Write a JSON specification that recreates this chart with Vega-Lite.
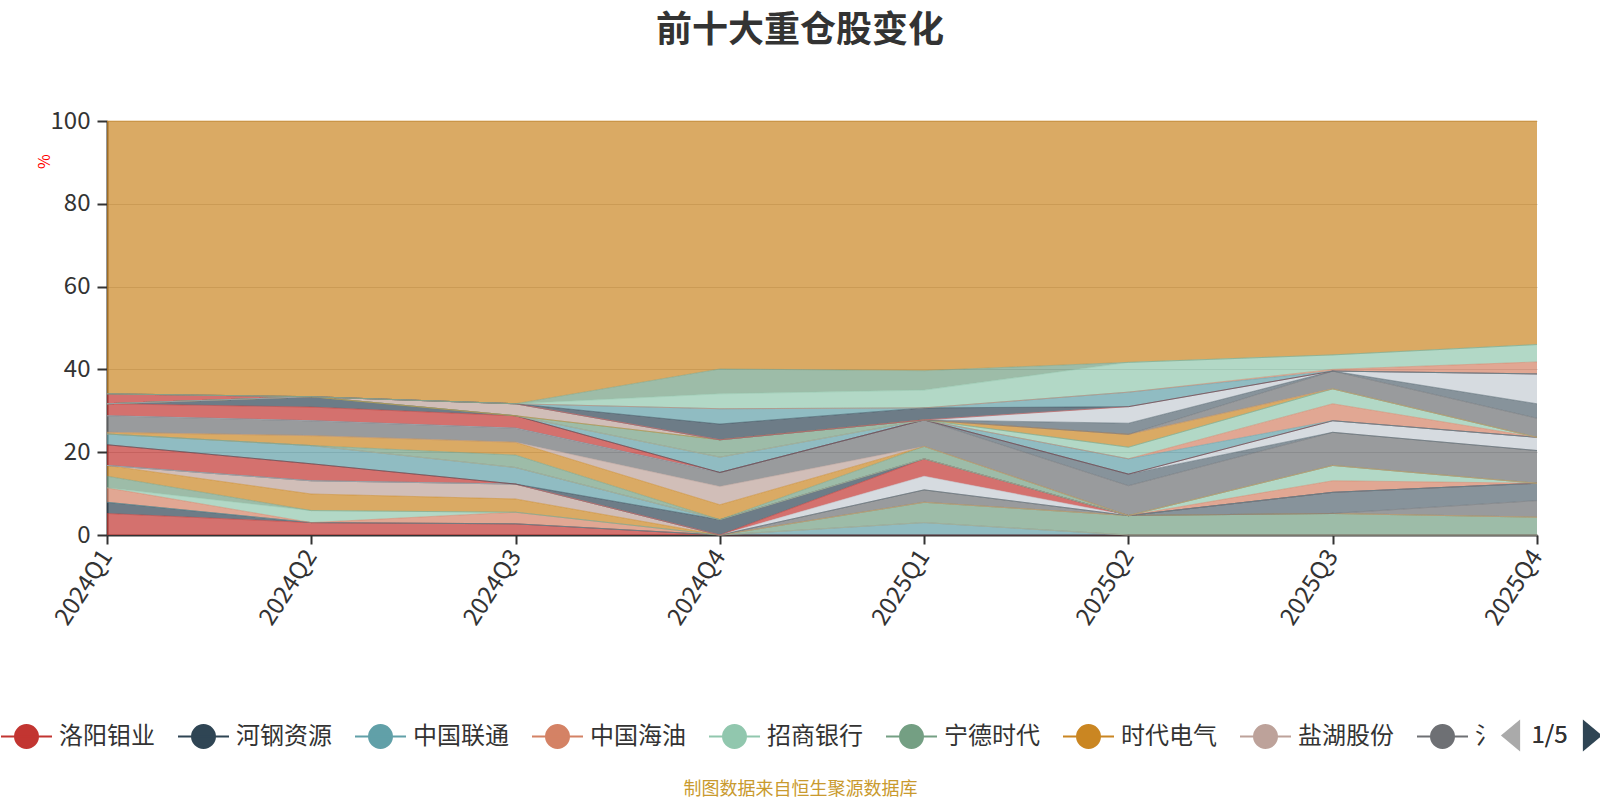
{
  "$schema": "https://vega.github.io/schema/vega-lite/v6.json",
  "autosize": "none",
  "width": 1430,
  "height": 414,
  "padding": {"left": 107, "top": 121, "right": 63, "bottom": 265},
  "background": "white",
  "title": {
    "text": "前十大重仓股变化",
    "font": "Noto Sans CJK SC",
    "fontSize": 36,
    "fontWeight": "bold",
    "color": "#333333",
    "anchor": "middle",
    "dx": -22,
    "offset": 59
  },
  "layer": [
    {
      "data": {
        "values": [
          {"q":"2024Q1","s":"洛阳钼业","i":0,"v":5.2},{"q":"2024Q2","s":"洛阳钼业","i":0,"v":3.0},{"q":"2024Q3","s":"洛阳钼业","i":0,"v":2.7},{"q":"2024Q4","s":"洛阳钼业","i":0,"v":0},{"q":"2025Q1","s":"洛阳钼业","i":0,"v":0},{"q":"2025Q2","s":"洛阳钼业","i":0,"v":0},{"q":"2025Q3","s":"洛阳钼业","i":0,"v":0},{"q":"2025Q4","s":"洛阳钼业","i":0,"v":0},
          {"q":"2024Q1","s":"河钢资源","i":1,"v":2.7},{"q":"2024Q2","s":"河钢资源","i":1,"v":0},{"q":"2024Q3","s":"河钢资源","i":1,"v":0},{"q":"2024Q4","s":"河钢资源","i":1,"v":0},{"q":"2025Q1","s":"河钢资源","i":1,"v":0},{"q":"2025Q2","s":"河钢资源","i":1,"v":0},{"q":"2025Q3","s":"河钢资源","i":1,"v":0},{"q":"2025Q4","s":"河钢资源","i":1,"v":0},
          {"q":"2024Q1","s":"中国联通","i":2,"v":0},{"q":"2024Q2","s":"中国联通","i":2,"v":0},{"q":"2024Q3","s":"中国联通","i":2,"v":0},{"q":"2024Q4","s":"中国联通","i":2,"v":0},{"q":"2025Q1","s":"中国联通","i":2,"v":3.0},{"q":"2025Q2","s":"中国联通","i":2,"v":0},{"q":"2025Q3","s":"中国联通","i":2,"v":0},{"q":"2025Q4","s":"中国联通","i":2,"v":0},
          {"q":"2024Q1","s":"中国海油","i":3,"v":3.5},{"q":"2024Q2","s":"中国海油","i":3,"v":0},{"q":"2024Q3","s":"中国海油","i":3,"v":2.8},{"q":"2024Q4","s":"中国海油","i":3,"v":0},{"q":"2025Q1","s":"中国海油","i":3,"v":0},{"q":"2025Q2","s":"中国海油","i":3,"v":0},{"q":"2025Q3","s":"中国海油","i":3,"v":0},{"q":"2025Q4","s":"中国海油","i":3,"v":0},
          {"q":"2024Q1","s":"招商银行","i":4,"v":0},{"q":"2024Q2","s":"招商银行","i":4,"v":2.9},{"q":"2024Q3","s":"招商银行","i":4,"v":0},{"q":"2024Q4","s":"招商银行","i":4,"v":0},{"q":"2025Q1","s":"招商银行","i":4,"v":0},{"q":"2025Q2","s":"招商银行","i":4,"v":0},{"q":"2025Q3","s":"招商银行","i":4,"v":0},{"q":"2025Q4","s":"招商银行","i":4,"v":0},
          {"q":"2024Q1","s":"宁德时代","i":5,"v":2.8},{"q":"2024Q2","s":"宁德时代","i":5,"v":0},{"q":"2024Q3","s":"宁德时代","i":5,"v":0},{"q":"2024Q4","s":"宁德时代","i":5,"v":0},{"q":"2025Q1","s":"宁德时代","i":5,"v":4.9},{"q":"2025Q2","s":"宁德时代","i":5,"v":4.7},{"q":"2025Q3","s":"宁德时代","i":5,"v":5.2},{"q":"2025Q4","s":"宁德时代","i":5,"v":4.3},
          {"q":"2024Q1","s":"时代电气","i":6,"v":2.6},{"q":"2024Q2","s":"时代电气","i":6,"v":4.0},{"q":"2024Q3","s":"时代电气","i":6,"v":3.2},{"q":"2024Q4","s":"时代电气","i":6,"v":0},{"q":"2025Q1","s":"时代电气","i":6,"v":0},{"q":"2025Q2","s":"时代电气","i":6,"v":0},{"q":"2025Q3","s":"时代电气","i":6,"v":0},{"q":"2025Q4","s":"时代电气","i":6,"v":0},
          {"q":"2024Q1","s":"盐湖股份","i":7,"v":0},{"q":"2024Q2","s":"盐湖股份","i":7,"v":3.2},{"q":"2024Q3","s":"盐湖股份","i":7,"v":3.6},{"q":"2024Q4","s":"盐湖股份","i":7,"v":0},{"q":"2025Q1","s":"盐湖股份","i":7,"v":0},{"q":"2025Q2","s":"盐湖股份","i":7,"v":0},{"q":"2025Q3","s":"盐湖股份","i":7,"v":0},{"q":"2025Q4","s":"盐湖股份","i":7,"v":0},
          {"q":"2024Q1","s":"重仓股9","i":8,"v":0},{"q":"2024Q2","s":"重仓股9","i":8,"v":0},{"q":"2024Q3","s":"重仓股9","i":8,"v":0},{"q":"2024Q4","s":"重仓股9","i":8,"v":0},{"q":"2025Q1","s":"重仓股9","i":8,"v":3.0},{"q":"2025Q2","s":"重仓股9","i":8,"v":0},{"q":"2025Q3","s":"重仓股9","i":8,"v":0},{"q":"2025Q4","s":"重仓股9","i":8,"v":4.0},
          {"q":"2024Q1","s":"重仓股10","i":9,"v":0},{"q":"2024Q2","s":"重仓股10","i":9,"v":0},{"q":"2024Q3","s":"重仓股10","i":9,"v":0},{"q":"2024Q4","s":"重仓股10","i":9,"v":0},{"q":"2025Q1","s":"重仓股10","i":9,"v":0},{"q":"2025Q2","s":"重仓股10","i":9,"v":0},{"q":"2025Q3","s":"重仓股10","i":9,"v":5.1},{"q":"2025Q4","s":"重仓股10","i":9,"v":4.2},
          {"q":"2024Q1","s":"重仓股11","i":10,"v":0},{"q":"2024Q2","s":"重仓股11","i":10,"v":0},{"q":"2024Q3","s":"重仓股11","i":10,"v":0},{"q":"2024Q4","s":"重仓股11","i":10,"v":0},{"q":"2025Q1","s":"重仓股11","i":10,"v":3.3},{"q":"2025Q2","s":"重仓股11","i":10,"v":0},{"q":"2025Q3","s":"重仓股11","i":10,"v":0},{"q":"2025Q4","s":"重仓股11","i":10,"v":0},
          {"q":"2024Q1","s":"重仓股12","i":11,"v":5.0},{"q":"2024Q2","s":"重仓股12","i":11,"v":4.1},{"q":"2024Q3","s":"重仓股12","i":11,"v":0},{"q":"2024Q4","s":"重仓股12","i":11,"v":0},{"q":"2025Q1","s":"重仓股12","i":11,"v":4.2},{"q":"2025Q2","s":"重仓股12","i":11,"v":0},{"q":"2025Q3","s":"重仓股12","i":11,"v":0},{"q":"2025Q4","s":"重仓股12","i":11,"v":0},
          {"q":"2024Q1","s":"重仓股13","i":12,"v":0},{"q":"2024Q2","s":"重仓股13","i":12,"v":0},{"q":"2024Q3","s":"重仓股13","i":12,"v":0},{"q":"2024Q4","s":"重仓股13","i":12,"v":3.7},{"q":"2025Q1","s":"重仓股13","i":12,"v":0},{"q":"2025Q2","s":"重仓股13","i":12,"v":0},{"q":"2025Q3","s":"重仓股13","i":12,"v":0},{"q":"2025Q4","s":"重仓股13","i":12,"v":0},
          {"q":"2024Q1","s":"重仓股14","i":13,"v":2.6},{"q":"2024Q2","s":"重仓股14","i":13,"v":4.4},{"q":"2024Q3","s":"重仓股14","i":13,"v":4.0},{"q":"2024Q4","s":"重仓股14","i":13,"v":0},{"q":"2025Q1","s":"重仓股14","i":13,"v":0},{"q":"2025Q2","s":"重仓股14","i":13,"v":0},{"q":"2025Q3","s":"重仓股14","i":13,"v":0},{"q":"2025Q4","s":"重仓股14","i":13,"v":0},
          {"q":"2024Q1","s":"重仓股15","i":14,"v":0},{"q":"2024Q2","s":"重仓股15","i":14,"v":0},{"q":"2024Q3","s":"重仓股15","i":14,"v":0},{"q":"2024Q4","s":"重仓股15","i":14,"v":0},{"q":"2025Q1","s":"重仓股15","i":14,"v":0},{"q":"2025Q2","s":"重仓股15","i":14,"v":0},{"q":"2025Q3","s":"重仓股15","i":14,"v":2.8},{"q":"2025Q4","s":"重仓股15","i":14,"v":0},
          {"q":"2024Q1","s":"重仓股16","i":15,"v":0},{"q":"2024Q2","s":"重仓股16","i":15,"v":0},{"q":"2024Q3","s":"重仓股16","i":15,"v":0},{"q":"2024Q4","s":"重仓股16","i":15,"v":0},{"q":"2025Q1","s":"重仓股16","i":15,"v":0},{"q":"2025Q2","s":"重仓股16","i":15,"v":0},{"q":"2025Q3","s":"重仓股16","i":15,"v":3.7},{"q":"2025Q4","s":"重仓股16","i":15,"v":0},
          {"q":"2024Q1","s":"重仓股17","i":16,"v":0},{"q":"2024Q2","s":"重仓股17","i":16,"v":0},{"q":"2024Q3","s":"重仓股17","i":16,"v":3.0},{"q":"2024Q4","s":"重仓股17","i":16,"v":0},{"q":"2025Q1","s":"重仓股17","i":16,"v":3.0},{"q":"2025Q2","s":"重仓股17","i":16,"v":0},{"q":"2025Q3","s":"重仓股17","i":16,"v":0},{"q":"2025Q4","s":"重仓股17","i":16,"v":0},
          {"q":"2024Q1","s":"重仓股18","i":17,"v":0.4},{"q":"2024Q2","s":"重仓股18","i":17,"v":2.4},{"q":"2024Q3","s":"重仓股18","i":17,"v":3.1},{"q":"2024Q4","s":"重仓股18","i":17,"v":3.6},{"q":"2025Q1","s":"重仓股18","i":17,"v":0},{"q":"2025Q2","s":"重仓股18","i":17,"v":0},{"q":"2025Q3","s":"重仓股18","i":17,"v":0},{"q":"2025Q4","s":"重仓股18","i":17,"v":0},
          {"q":"2024Q1","s":"重仓股19","i":18,"v":0},{"q":"2024Q2","s":"重仓股19","i":18,"v":0},{"q":"2024Q3","s":"重仓股19","i":18,"v":0},{"q":"2024Q4","s":"重仓股19","i":18,"v":4.4},{"q":"2025Q1","s":"重仓股19","i":18,"v":0},{"q":"2025Q2","s":"重仓股19","i":18,"v":0},{"q":"2025Q3","s":"重仓股19","i":18,"v":0},{"q":"2025Q4","s":"重仓股19","i":18,"v":0},
          {"q":"2024Q1","s":"重仓股20","i":19,"v":4.0},{"q":"2024Q2","s":"重仓股20","i":19,"v":3.6},{"q":"2024Q3","s":"重仓股20","i":19,"v":3.4},{"q":"2024Q4","s":"重仓股20","i":19,"v":3.4},{"q":"2025Q1","s":"重仓股20","i":19,"v":6.4},{"q":"2025Q2","s":"重仓股20","i":19,"v":7.2},{"q":"2025Q3","s":"重仓股20","i":19,"v":8.0},{"q":"2025Q4","s":"重仓股20","i":19,"v":7.9},
          {"q":"2024Q1","s":"重仓股21","i":20,"v":0},{"q":"2024Q2","s":"重仓股21","i":20,"v":0},{"q":"2024Q3","s":"重仓股21","i":20,"v":0},{"q":"2024Q4","s":"重仓股21","i":20,"v":0},{"q":"2025Q1","s":"重仓股21","i":20,"v":0},{"q":"2025Q2","s":"重仓股21","i":20,"v":2.8},{"q":"2025Q3","s":"重仓股21","i":20,"v":0},{"q":"2025Q4","s":"重仓股21","i":20,"v":0},
          {"q":"2024Q1","s":"重仓股22","i":21,"v":0},{"q":"2024Q2","s":"重仓股22","i":21,"v":0},{"q":"2024Q3","s":"重仓股22","i":21,"v":0},{"q":"2024Q4","s":"重仓股22","i":21,"v":0},{"q":"2025Q1","s":"重仓股22","i":21,"v":0},{"q":"2025Q2","s":"重仓股22","i":21,"v":0},{"q":"2025Q3","s":"重仓股22","i":21,"v":2.8},{"q":"2025Q4","s":"重仓股22","i":21,"v":3.2},
          {"q":"2024Q1","s":"重仓股23","i":22,"v":2.9},{"q":"2024Q2","s":"重仓股23","i":22,"v":3.3},{"q":"2024Q3","s":"重仓股23","i":22,"v":3.0},{"q":"2024Q4","s":"重仓股23","i":22,"v":0},{"q":"2025Q1","s":"重仓股23","i":22,"v":0},{"q":"2025Q2","s":"重仓股23","i":22,"v":0},{"q":"2025Q3","s":"重仓股23","i":22,"v":0},{"q":"2025Q4","s":"重仓股23","i":22,"v":0},
          {"q":"2024Q1","s":"重仓股24","i":23,"v":0},{"q":"2024Q2","s":"重仓股24","i":23,"v":2.5},{"q":"2024Q3","s":"重仓股24","i":23,"v":0},{"q":"2024Q4","s":"重仓股24","i":23,"v":0},{"q":"2025Q1","s":"重仓股24","i":23,"v":0},{"q":"2025Q2","s":"重仓股24","i":23,"v":0},{"q":"2025Q3","s":"重仓股24","i":23,"v":0},{"q":"2025Q4","s":"重仓股24","i":23,"v":0},
          {"q":"2024Q1","s":"重仓股25","i":24,"v":0},{"q":"2024Q2","s":"重仓股25","i":24,"v":0},{"q":"2024Q3","s":"重仓股25","i":24,"v":0},{"q":"2024Q4","s":"重仓股25","i":24,"v":3.7},{"q":"2025Q1","s":"重仓股25","i":24,"v":0},{"q":"2025Q2","s":"重仓股25","i":24,"v":3.7},{"q":"2025Q3","s":"重仓股25","i":24,"v":0},{"q":"2025Q4","s":"重仓股25","i":24,"v":0},
          {"q":"2024Q1","s":"重仓股26","i":25,"v":0},{"q":"2024Q2","s":"重仓股26","i":25,"v":0},{"q":"2024Q3","s":"重仓股26","i":25,"v":0},{"q":"2024Q4","s":"重仓股26","i":25,"v":0},{"q":"2025Q1","s":"重仓股26","i":25,"v":0},{"q":"2025Q2","s":"重仓股26","i":25,"v":0},{"q":"2025Q3","s":"重仓股26","i":25,"v":4.1},{"q":"2025Q4","s":"重仓股26","i":25,"v":0},
          {"q":"2024Q1","s":"重仓股27","i":26,"v":0},{"q":"2024Q2","s":"重仓股27","i":26,"v":0},{"q":"2024Q3","s":"重仓股27","i":26,"v":0},{"q":"2024Q4","s":"重仓股27","i":26,"v":0},{"q":"2025Q1","s":"重仓股27","i":26,"v":0},{"q":"2025Q2","s":"重仓股27","i":26,"v":2.8},{"q":"2025Q3","s":"重仓股27","i":26,"v":3.6},{"q":"2025Q4","s":"重仓股27","i":26,"v":0},
          {"q":"2024Q1","s":"重仓股28","i":27,"v":0},{"q":"2024Q2","s":"重仓股28","i":27,"v":0},{"q":"2024Q3","s":"重仓股28","i":27,"v":0},{"q":"2024Q4","s":"重仓股28","i":27,"v":4.2},{"q":"2025Q1","s":"重仓股28","i":27,"v":0},{"q":"2025Q2","s":"重仓股28","i":27,"v":0},{"q":"2025Q3","s":"重仓股28","i":27,"v":0},{"q":"2025Q4","s":"重仓股28","i":27,"v":0},
          {"q":"2024Q1","s":"重仓股29","i":28,"v":0},{"q":"2024Q2","s":"重仓股29","i":28,"v":0},{"q":"2024Q3","s":"重仓股29","i":28,"v":0},{"q":"2024Q4","s":"重仓股29","i":28,"v":0},{"q":"2025Q1","s":"重仓股29","i":28,"v":0},{"q":"2025Q2","s":"重仓股29","i":28,"v":3.1},{"q":"2025Q3","s":"重仓股29","i":28,"v":0},{"q":"2025Q4","s":"重仓股29","i":28,"v":0},
          {"q":"2024Q1","s":"重仓股30","i":29,"v":0},{"q":"2024Q2","s":"重仓股30","i":29,"v":0},{"q":"2024Q3","s":"重仓股30","i":29,"v":2.9},{"q":"2024Q4","s":"重仓股30","i":29,"v":0},{"q":"2025Q1","s":"重仓股30","i":29,"v":0},{"q":"2025Q2","s":"重仓股30","i":29,"v":0},{"q":"2025Q3","s":"重仓股30","i":29,"v":0},{"q":"2025Q4","s":"重仓股30","i":29,"v":0},
          {"q":"2024Q1","s":"重仓股31","i":30,"v":0},{"q":"2024Q2","s":"重仓股31","i":30,"v":0},{"q":"2024Q3","s":"重仓股31","i":30,"v":0},{"q":"2024Q4","s":"重仓股31","i":30,"v":0},{"q":"2025Q1","s":"重仓股31","i":30,"v":0},{"q":"2025Q2","s":"重仓股31","i":30,"v":0},{"q":"2025Q3","s":"重仓股31","i":30,"v":4.3},{"q":"2025Q4","s":"重仓股31","i":30,"v":4.6},
          {"q":"2024Q1","s":"重仓股32","i":31,"v":0},{"q":"2024Q2","s":"重仓股32","i":31,"v":0},{"q":"2024Q3","s":"重仓股32","i":31,"v":0},{"q":"2024Q4","s":"重仓股32","i":31,"v":0},{"q":"2025Q1","s":"重仓股32","i":31,"v":0},{"q":"2025Q2","s":"重仓股32","i":31,"v":2.7},{"q":"2025Q3","s":"重仓股32","i":31,"v":0},{"q":"2025Q4","s":"重仓股32","i":31,"v":3.5},
          {"q":"2024Q1","s":"重仓股33","i":32,"v":0},{"q":"2024Q2","s":"重仓股33","i":32,"v":0},{"q":"2024Q3","s":"重仓股33","i":32,"v":0},{"q":"2024Q4","s":"重仓股33","i":32,"v":0},{"q":"2025Q1","s":"重仓股33","i":32,"v":0},{"q":"2025Q2","s":"重仓股33","i":32,"v":4.0},{"q":"2025Q3","s":"重仓股33","i":32,"v":0},{"q":"2025Q4","s":"重仓股33","i":32,"v":7.2},
          {"q":"2024Q1","s":"重仓股34","i":33,"v":2.4},{"q":"2024Q2","s":"重仓股34","i":33,"v":0},{"q":"2024Q3","s":"重仓股34","i":33,"v":0},{"q":"2024Q4","s":"重仓股34","i":33,"v":0},{"q":"2025Q1","s":"重仓股34","i":33,"v":0},{"q":"2025Q2","s":"重仓股34","i":33,"v":0},{"q":"2025Q3","s":"重仓股34","i":33,"v":0},{"q":"2025Q4","s":"重仓股34","i":33,"v":0},
          {"q":"2024Q1","s":"重仓股35","i":34,"v":0},{"q":"2024Q2","s":"重仓股35","i":34,"v":0},{"q":"2024Q3","s":"重仓股35","i":34,"v":0},{"q":"2024Q4","s":"重仓股35","i":34,"v":3.8},{"q":"2025Q1","s":"重仓股35","i":34,"v":2.9},{"q":"2025Q2","s":"重仓股35","i":34,"v":0},{"q":"2025Q3","s":"重仓股35","i":34,"v":0},{"q":"2025Q4","s":"重仓股35","i":34,"v":0},
          {"q":"2024Q1","s":"重仓股36","i":35,"v":0},{"q":"2024Q2","s":"重仓股36","i":35,"v":0},{"q":"2024Q3","s":"重仓股36","i":35,"v":0},{"q":"2024Q4","s":"重仓股36","i":35,"v":3.7},{"q":"2025Q1","s":"重仓股36","i":35,"v":0},{"q":"2025Q2","s":"重仓股36","i":35,"v":3.5},{"q":"2025Q3","s":"重仓股36","i":35,"v":0},{"q":"2025Q4","s":"重仓股36","i":35,"v":0},
          {"q":"2024Q1","s":"重仓股37","i":36,"v":0},{"q":"2024Q2","s":"重仓股37","i":36,"v":0},{"q":"2024Q3","s":"重仓股37","i":36,"v":0},{"q":"2024Q4","s":"重仓股37","i":36,"v":0},{"q":"2025Q1","s":"重仓股37","i":36,"v":0},{"q":"2025Q2","s":"重仓股37","i":36,"v":0},{"q":"2025Q3","s":"重仓股37","i":36,"v":0.4},{"q":"2025Q4","s":"重仓股37","i":36,"v":2.9},
          {"q":"2024Q1","s":"重仓股38","i":37,"v":0},{"q":"2024Q2","s":"重仓股38","i":37,"v":0},{"q":"2024Q3","s":"重仓股38","i":37,"v":0},{"q":"2024Q4","s":"重仓股38","i":37,"v":3.6},{"q":"2025Q1","s":"重仓股38","i":37,"v":4.3},{"q":"2025Q2","s":"重仓股38","i":37,"v":7.2},{"q":"2025Q3","s":"重仓股38","i":37,"v":3.5},{"q":"2025Q4","s":"重仓股38","i":37,"v":4.2},
          {"q":"2024Q1","s":"重仓股39","i":38,"v":0},{"q":"2024Q2","s":"重仓股39","i":38,"v":0},{"q":"2024Q3","s":"重仓股39","i":38,"v":0},{"q":"2024Q4","s":"重仓股39","i":38,"v":6.0},{"q":"2025Q1","s":"重仓股39","i":38,"v":4.7},{"q":"2025Q2","s":"重仓股39","i":38,"v":0},{"q":"2025Q3","s":"重仓股39","i":38,"v":0},{"q":"2025Q4","s":"重仓股39","i":38,"v":0},
          {"q":"2024Q1","s":"其他","i":39,"v":65.9},{"q":"2024Q2","s":"其他","i":39,"v":66.6},{"q":"2024Q3","s":"其他","i":39,"v":68.3},{"q":"2024Q4","s":"其他","i":39,"v":59.9},{"q":"2025Q1","s":"其他","i":39,"v":60.3},{"q":"2025Q2","s":"其他","i":39,"v":58.3},{"q":"2025Q3","s":"其他","i":39,"v":56.5},{"q":"2025Q4","s":"其他","i":39,"v":54.0}
        ]
      },
      "mark": {
        "type": "area",
        "opacity": 0.7,
        "line": {"strokeWidth": 1, "opacity": 0.5}
      },
      "encoding": {
        "x": {
          "field": "q",
          "type": "ordinal",
          "sort": null,
          "scale": {"type": "point", "padding": 0},
          "axis": {
            "title": "制图数据来自恒生聚源数据库",
            "titleFont": "Noto Sans CJK SC",
            "titleFontSize": 18,
            "titleFontWeight": "normal",
            "titleColor": "#c99a2e",
            "titleX": 693,
            "titleY": 254,
            "titleAlign": "center",
            "titleBaseline": "middle",
            "labelAngle": -57,
            "labelAlign": "right",
            "labelBaseline": "middle",
            "labelFont": "Noto Sans CJK SC",
            "labelFontSize": 24,
            "labelColor": "#333333",
            "labelPadding": 8,
            "tickSize": 9,
            "tickWidth": 2,
            "tickColor": "#333333",
            "domainColor": "#333333",
            "domainWidth": 2,
            "grid": false
          }
        },
        "y": {
          "field": "v",
          "type": "quantitative",
          "stack": "zero",
          "scale": {"domain": [0, 100], "nice": false},
          "axis": {
            "title": "%",
            "titleColor": "#ff0000",
            "titleFont": "Noto Sans CJK SC",
            "titleFontSize": 16,
            "titleFontWeight": "normal",
            "titleAngle": 270,
            "titleX": -63,
            "titleY": 40,
            "titleAlign": "center",
            "titleBaseline": "middle",
            "values": [0, 20, 40, 60, 80, 100],
            "labelFont": "Noto Sans CJK SC",
            "labelFontSize": 24,
            "labelColor": "#333333",
            "labelPadding": 7,
            "tickSize": 10,
            "tickWidth": 2,
            "tickColor": "#333333",
            "domainColor": "#333333",
            "domainWidth": 2,
            "grid": true,
            "gridColor": "#cccccc",
            "gridWidth": 1
          }
        },
        "order": {"field": "i", "type": "quantitative", "sort": "ascending"},
        "color": {
          "field": "s",
          "type": "nominal",
          "scale": {
            "domain": ["洛阳钼业","河钢资源","中国联通","中国海油","招商银行","宁德时代","时代电气","盐湖股份","重仓股9","重仓股10","重仓股11","重仓股12","重仓股13","重仓股14","重仓股15","重仓股16","重仓股17","重仓股18","重仓股19","重仓股20","重仓股21","重仓股22","重仓股23","重仓股24","重仓股25","重仓股26","重仓股27","重仓股28","重仓股29","重仓股30","重仓股31","重仓股32","重仓股33","重仓股34","重仓股35","重仓股36","重仓股37","重仓股38","重仓股39","其他"],
            "range": ["#c23531","#2f4554","#61a0a8","#d48265","#91c7ae","#749f83","#ca8622","#bda29a","#6e7074","#546570","#c4ccd3","#c23531","#2f4554","#61a0a8","#d48265","#91c7ae","#749f83","#ca8622","#bda29a","#6e7074","#546570","#c4ccd3","#c23531","#2f4554","#61a0a8","#d48265","#91c7ae","#749f83","#ca8622","#bda29a","#6e7074","#546570","#c4ccd3","#c23531","#2f4554","#61a0a8","#d48265","#91c7ae","#749f83","#ca8622"]
          },
          "legend": {
            "orient": "none",
            "legendX": -107,
            "legendY": 589,
            "direction": "horizontal",
            "columns": 9,
            "values": ["洛阳钼业","河钢资源","中国联通","中国海油","招商银行","宁德时代","时代电气","盐湖股份","重仓股9"],
            "title": null,
            "padding": 0,
            "symbolType": "M-1,0L1,0M-0.45,0A0.45,0.45,0,1,1,0.45,0A0.45,0.45,0,1,1,-0.45,0Z",
            "symbolSize": 2601,
            "symbolStrokeWidth": 2,
            "symbolOpacity": 1,
            "labelFont": "Noto Sans CJK SC",
            "labelFontSize": 24,
            "labelColor": "#333333",
            "labelOffset": 6,
            "columnPadding": 19,
            "labelExpr": "datum.label == '重仓股9' ? '氵' : datum.label",
            "encode": {
              "symbols": {
                "update": {
                  "stroke": {"scale": "color", "field": "value"},
                  "opacity": {"value": 1},
                  "fillOpacity": {"value": 1},
                  "strokeOpacity": {"value": 1}
                }
              }
            }
          }
        }
      }
    },
    {
      "data": {"values": [{"nav": "prev"}, {"nav": "next"}]},
      "mark": {"type": "point", "opacity": 0, "filled": true},
      "encoding": {
        "color": {
          "field": "nav",
          "type": "nominal",
          "scale": {"domain": ["prev", "next"], "range": ["#aaaaaa", "#2f4554"]},
          "legend": {
            "orient": "none",
            "legendX": 1387.5,
            "legendY": 598.5,
            "direction": "horizontal",
            "columns": 2,
            "title": null,
            "padding": 0,
            "symbolSize": 1024,
            "symbolStrokeWidth": 0,
            "labelFont": "Noto Sans CJK SC",
            "labelFontSize": 24,
            "labelColor": "#333333",
            "labelOffset": 5,
            "columnPadding": 8,
            "labelExpr": "datum.value == 'prev' ? '1/5' : ''",
            "encode": {
              "symbols": {
                "update": {
                  "shape": {"signal": "datum.value == 'prev' ? 'M0.6,-1L-0.6,0L0.6,1Z' : 'M-0.6,-1L0.6,0L-0.6,1Z'"},
                  "opacity": {"value": 1},
                  "fillOpacity": {"value": 1}
                }
              }
            }
          }
        },
        "shape": {
          "field": "nav",
          "type": "nominal",
          "scale": {
            "domain": ["prev", "next"],
            "range": ["M0.6,-1L-0.6,0L0.6,1Z", "M-0.6,-1L0.6,0L-0.6,1Z"]
          },
          "legend": {
            "orient": "none",
            "legendX": 1387.5,
            "legendY": 598.5,
            "direction": "horizontal",
            "columns": 2,
            "title": null,
            "padding": 0,
            "symbolSize": 1024,
            "symbolStrokeWidth": 0,
            "labelFont": "Noto Sans CJK SC",
            "labelFontSize": 24,
            "labelColor": "#333333",
            "labelOffset": 5,
            "columnPadding": 8,
            "labelExpr": "datum.value == 'prev' ? '1/5' : ''",
            "encode": {
              "symbols": {
                "update": {
                  "shape": {"signal": "datum.value == 'prev' ? 'M0.6,-1L-0.6,0L0.6,1Z' : 'M-0.6,-1L0.6,0L-0.6,1Z'"},
                  "opacity": {"value": 1},
                  "fillOpacity": {"value": 1}
                }
              }
            }
          }
        }
      }
    }
  ],
  "resolve": {"scale": {"color": "independent"}},
  "config": {
    "view": {"stroke": null},
    "font": "Noto Sans CJK SC"
  }
}
